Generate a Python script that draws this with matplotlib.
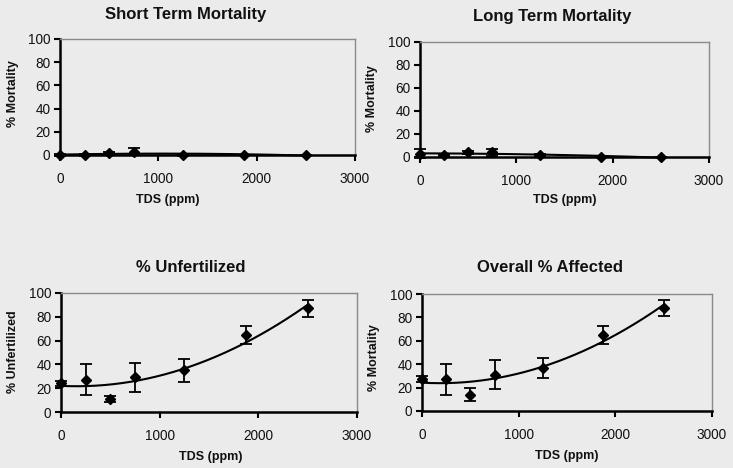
import numpy as np
import matplotlib
matplotlib.use("Agg")
import matplotlib.pyplot as plt

plt.rcParams['font.family'] = ['Liberation Sans', 'DejaVu Sans']

tds = [0, 250, 500, 750, 1250, 1875, 2500]

short_vals = [0, 0, 1.5, 3, 0, 0, 0]
short_err = [0.5, 0.5, 1.5, 3, 0.5, 0.3, 0.3]

long_vals = [3, 2, 4, 4, 1.5, 0, 0]
long_err = [4, 1, 1, 3, 1, 0.3, 0.3]

unfert_vals = [24, 27, 11, 29, 35, 65, 87]
unfert_err = [2, 13, 2.5, 12, 9.5, 7.5, 7]

overall_vals = [27, 27, 14, 31, 37, 65, 88]
overall_err = [2.5, 13, 5.5, 12.5, 8.5, 8, 7]

xticks = [0, 1000, 2000, 3000]
yticks = [0, 20, 40, 60, 80, 100]

W, H = 733, 468
bg = '#ebebeb'
fig = plt.figure(figsize=(W / 100, H / 100), dpi=100, facecolor=bg)

panels = [
    dict(title='Short Term Mortality', ylabel='% Mortality', vals=short_vals, err=short_err,
         box=(60, 39, 355, 155), tpos=(186, 14), xl=(168, 200), yl=(13, 94)),
    dict(title='Long Term Mortality', ylabel='% Mortality', vals=long_vals, err=long_err,
         box=(420, 42, 709, 157), tpos=(552, 16), xl=(565, 200), yl=(372, 99)),
    dict(title='% Unfertilized', ylabel='% Unfertilized', vals=unfert_vals, err=unfert_err,
         box=(61, 293, 357, 412), tpos=(191, 267), xl=(211, 457), yl=(13, 352)),
    dict(title='Overall % Affected', ylabel='% Mortality', vals=overall_vals, err=overall_err,
         box=(422, 294, 712, 411), tpos=(550, 267), xl=(567, 456), yl=(374, 358)),
]

for p in panels:
    x0, y0, x1, y1 = p['box']
    ax = fig.add_axes([x0 / W, 1 - y1 / H, (x1 - x0) / W, (y1 - y0) / H])
    ax.set_facecolor(bg)
    ax.set_xlim(0, 3000)
    ax.set_ylim(0, 100)
    ax.set_xticks(xticks)
    ax.set_yticks(yticks)
    ax.tick_params(axis='both', direction='out', length=4, width=1.5, labelsize=9.8,
                   color='black', labelcolor='#111111')
    ax.tick_params(axis='x', pad=8)
    ax.tick_params(axis='y', pad=3)
    for s in ['left', 'bottom']:
        ax.spines[s].set_linewidth(1.8)
        ax.spines[s].set_color('black')
    for s in ['top', 'right']:
        ax.spines[s].set_linewidth(1.0)
        ax.spines[s].set_color('#8a8a8a')
    # trendline (2nd-order polynomial fit, as in the original spreadsheet)
    coef = np.polyfit(tds, p['vals'], 2)
    xs = np.linspace(0, 2500, 200)
    ax.plot(xs, np.polyval(coef, xs), color='black', lw=1.5, clip_on=False, zorder=3)
    ax.errorbar(tds, p['vals'], yerr=p['err'], fmt='D', color='black', ms=5.5,
                ecolor='black', elinewidth=1.3, capsize=4, capthick=1.3,
                clip_on=False, zorder=4)
    fig.text(p['tpos'][0] / W, 1 - p['tpos'][1] / H, p['title'], ha='center', va='center',
             fontsize=12, fontweight='bold', color='#111111')
    fig.text(p['xl'][0] / W, 1 - p['xl'][1] / H, 'TDS (ppm)', ha='center', va='center',
             fontsize=9, fontweight='bold', color='#111111')
    fig.text(p['yl'][0] / W, 1 - p['yl'][1] / H, p['ylabel'], ha='center', va='center',
             rotation=90, fontsize=9, fontweight='bold', color='#111111')

fig.savefig('out.png', dpi=100, facecolor=bg)
